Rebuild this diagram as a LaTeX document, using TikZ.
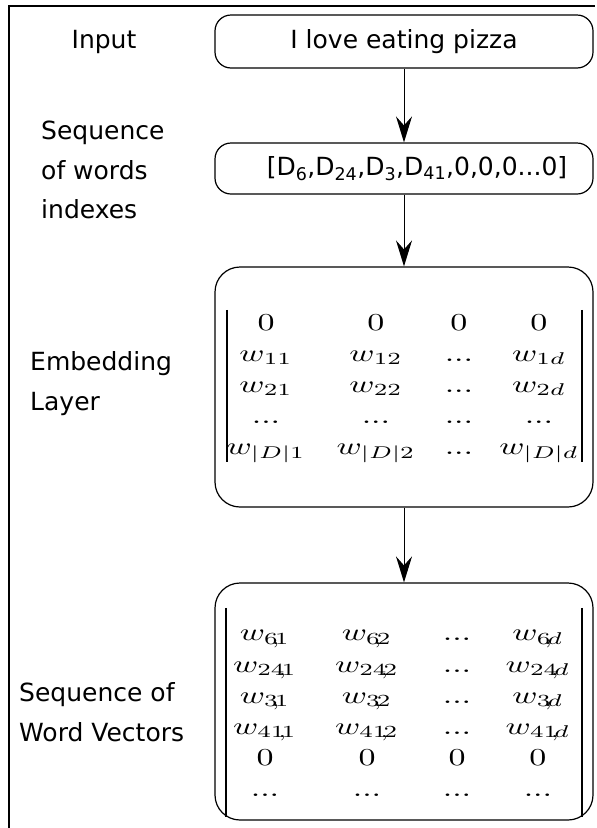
\documentclass[tikz,border=0pt]{standalone}
\usepackage[no-math]{fontspec}
\setmainfont{DejaVu Sans}
\usepackage{graphicx}
\usepackage{array}
\usetikzlibrary{arrows.meta}
\begin{document}
\begin{tikzpicture}[x=1pt,y=-1pt,
  stage/.style={draw, line width=1.2pt, minimum width=378pt, inner sep=0pt,
    font=\fontsize{25}{30}\selectfont},
  caption/.style={align=left, anchor=west, inner sep=0pt,
    font=\fontsize{25}{39.5}\selectfont},
  flow/.style={-{Stealth[length=26pt,width=16pt,inset=9pt]}, line width=1pt},
  mat/.style={inner sep=0pt, font=\fontsize{10}{12.8}\selectfont},
  matbar/.style={line width=1.4pt}]
\useasboundingbox (0,0) rectangle (597,828);

% frame on the top and left side
\draw[line width=2pt] (8.5,828) -- (8.5,5.5) -- (595,5.5);

% pipeline stages
\node[stage, rounded corners=16pt, minimum height=53pt] (input) at (404,41.5)
  {I love eating pizza};
\node[stage, rounded corners=16pt, minimum height=51pt] (index) at (404,168.5)
  {\hspace*{26pt}[D\textsubscript{6},D\textsubscript{24},D\textsubscript{3},D\textsubscript{41},0,0,0...0]};
\node[stage, rounded corners=25pt, minimum height=240pt] (embed) at (404,387) {};
\node[stage, rounded corners=25pt, minimum height=237pt] (vectors) at (404,701.5) {};

% embedding matrix
\node[mat] (embmat) at (402.5,386) {\scalebox{3.4}[2.43]{%
  $\begin{array}{@{}w{c}{22.35pt}@{\hspace{10pt}}w{c}{22.35pt}@{\hspace{2.06pt}}w{c}{22.35pt}@{\hspace{1.18pt}}w{c}{22.35pt}@{}}
    0 & 0 & 0 & 0\\
    w_{11} & w_{12} & ... & w_{1d}\\
    w_{21} & w_{22} & ... & w_{2d}\\
    ... & ... & ... & ...\\
    w_{|D|1} & w_{|D|2} & ... & w_{|D|d}
  \end{array}$}};
\draw[matbar] ([shift={(-1pt,-1.75pt)}]embmat.north west) -- ([shift={(-1pt,1.75pt)}]embmat.south west);
\draw[matbar] ([shift={(5pt,-1.75pt)}]embmat.north east) -- ([shift={(5pt,1.75pt)}]embmat.south east);

% looked-up word vectors
\newcommand{\cm}{\mkern-4mu,\mkern-3mu}
\node[mat] (vecmat) at (401.5,712.5) {\scalebox{3.4}[2.43]{%
  $\begin{array}{@{}w{c}{22.35pt}@{\hspace{7.65pt}}w{c}{22.35pt}@{\hspace{4.12pt}}w{c}{22.35pt}@{\hspace{1.47pt}}w{c}{22.35pt}@{}}
    w_{6\cm1} & w_{6\cm2} & ... & w_{6\cm d}\\
    w_{24\cm1} & w_{24\cm2} & ... & w_{24\cm d}\\
    w_{3\cm1} & w_{3\cm2} & ... & w_{3\cm d}\\
    w_{41\cm1} & w_{41\cm2} & ... & w_{41\cm d}\\
    0 & 0 & 0 & 0\\
    ... & ... & ... & ...
  \end{array}$}};
\draw[matbar] ([shift={(-1pt,11.2pt)}]vecmat.north west) -- ([shift={(-1pt,-11.2pt)}]vecmat.south west);
\draw[matbar] ([shift={(6pt,11.2pt)}]vecmat.north east) -- ([shift={(6pt,-11.2pt)}]vecmat.south east);

% captions
\node[caption, anchor=center] (capinput) at (104,42) {Input};
\node[caption] (capindex) at (41,170) {Sequence\\of words\\indexes};
\node[caption] (capembed) at (30,383.5) {Embedding\\Layer};
\node[caption] (capvec) at (19,712) {Sequence of\\Word Vectors};

% connectors
\draw[flow] (input) -- (index);
\draw[flow] (index) -- (embed);
\draw[flow] (embed) -- (vectors);
\end{tikzpicture}
\end{document}
